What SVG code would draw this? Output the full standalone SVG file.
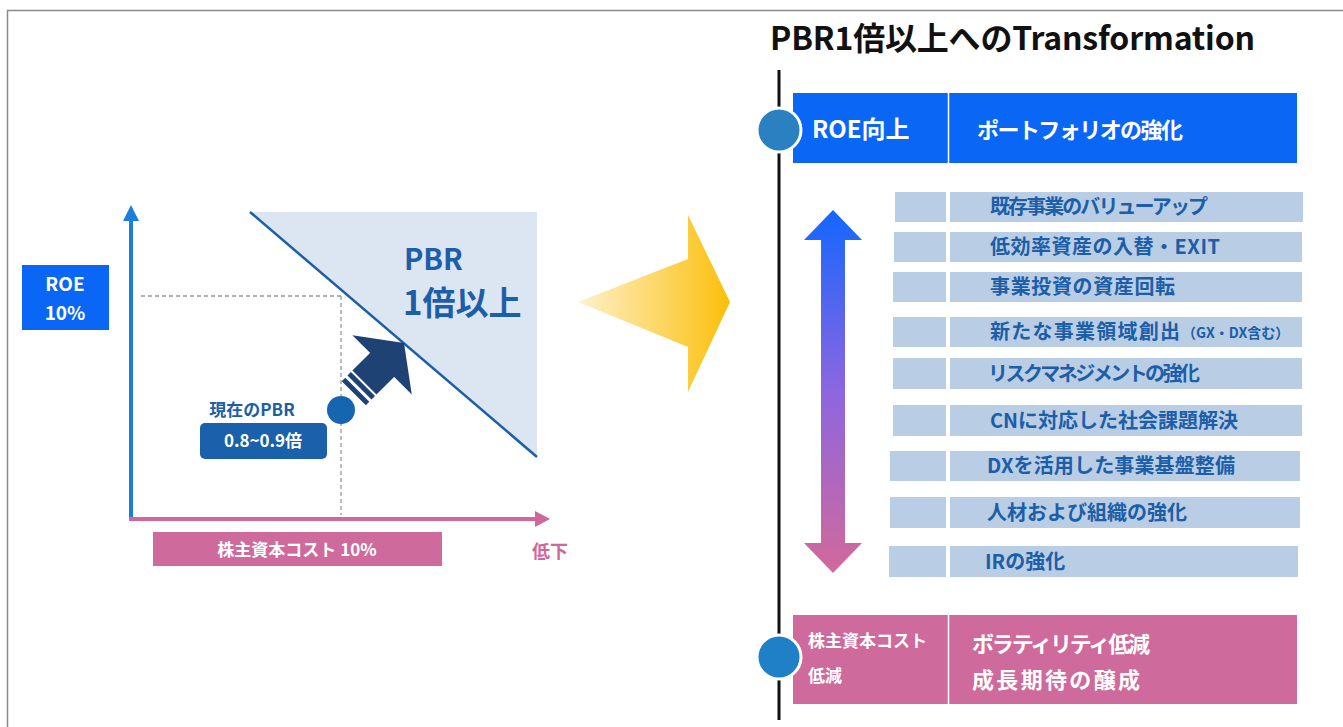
<svg xmlns="http://www.w3.org/2000/svg" width="1343" height="727" viewBox="0 0 1343 727">
<defs>
<linearGradient id="yel" x1="0" y1="0" x2="1" y2="0">
<stop offset="0" stop-color="#fff1cc"/>
<stop offset="1" stop-color="#fbbf0a"/>
</linearGradient>
<linearGradient id="vgrad" x1="0" y1="0" x2="0" y2="1">
<stop offset="0" stop-color="#1466ff"/>
<stop offset="0.5" stop-color="#8d66e0"/>
<stop offset="1" stop-color="#d2699a"/>
</linearGradient>
<style>
text{font-family:"Noto Sans CJK JP","Noto Sans",sans-serif;font-weight:bold;}
.w{fill:#ffffff;}
.b{fill:#1c5ea8;}
.row{fill:#b9cde5;}
.item{font-size:20px;fill:#1c5ea8;}
</style>
</defs>
<rect x="0" y="0" width="1343" height="727" fill="#ffffff"/>
<path d="M7.5,727 V10.5 H1343" fill="none" stroke="#8a8a8a" stroke-width="1.5"/>

<g id="connectors">
<line x1="131" y1="521" x2="131" y2="218" stroke="#1a7fd9" stroke-width="4"/>
<polygon points="131,205 123,221 139,221" fill="#1a7fd9"/>
<line x1="129" y1="519" x2="537" y2="519" stroke="#d0679b" stroke-width="4"/>
<polygon points="550,519 535,511 535,527" fill="#d0679b"/>
<line x1="141" y1="296" x2="341" y2="296" stroke="#999999" stroke-width="1.3" stroke-dasharray="4,3"/>
<line x1="341" y1="296" x2="341" y2="515" stroke="#999999" stroke-width="1.3" stroke-dasharray="4,3"/>
<polygon points="578,302 688,259 688,215 730,302 688,392 688,347" fill="url(#yel)"/>
<polygon points="833,210 862,240 845,240 845,543 862,543 833,573 804,543 821,543 821,240 804,240" fill="url(#vgrad)"/>
<line x1="779" y1="70" x2="779" y2="720" stroke="#111111" stroke-width="3"/>
</g>

<g id="pbr-zone">
<polygon points="250,212 537,212 537,456" fill="#dce6f2"/>
<line x1="250" y1="212" x2="537" y2="457" stroke="#1c5ea8" stroke-width="2.5"/>
<text x="404" y="270" font-size="29" class="b">PBR</text>
<text x="403" y="315" font-size="33" class="b">1倍以上</text>
</g>

<g id="roe-label">
<rect x="22" y="265" width="87" height="65" fill="#0a66f5"/>
<text x="65" y="291" font-size="19" class="w" text-anchor="middle">ROE</text>
<text x="65" y="320" font-size="19" class="w" text-anchor="middle">10%</text>
</g>

<g id="current-pbr">
<g transform="translate(404,343) rotate(-45)" fill="#1f4275">
<polygon points="0,0 -31,-42 -31,42"/>
<rect x="-56" y="-17" width="26" height="34"/>
<rect x="-63" y="-17" width="5" height="34"/>
<rect x="-71" y="-17" width="5" height="34"/>
</g>
<circle cx="341" cy="410" r="14" fill="#1565b0"/>
<text x="252" y="416" font-size="17" class="b" text-anchor="middle">現在のPBR</text>
<rect x="200" y="423" width="127" height="36" rx="5" fill="#1a60aa"/>
<text x="263" y="447" font-size="17" class="w" text-anchor="middle">0.8~0.9倍</text>
</g>

<g id="cost-label">
<rect x="153" y="532" width="289" height="34" fill="#cf6a9c"/>
<text x="297" y="556" font-size="17" class="w" text-anchor="middle">株主資本コスト 10%</text>
<text x="532" y="558" font-size="18" fill="#d0679b">低下</text>
</g>

<g id="title">
<text x="770" y="50" font-size="32" fill="#111111" textLength="485">PBR1倍以上へのTransformation</text>
</g>

<g id="roe-up">
<rect x="793" y="93" width="504" height="70" fill="#0a66f5"/>
<line x1="948.5" y1="93" x2="948.5" y2="163" stroke="#ffffff" stroke-width="1.5"/>
<circle cx="779" cy="130" r="22" fill="#2b80c2" stroke="#ffffff" stroke-width="3"/>
<text x="812" y="138" font-size="24" class="w">ROE向上</text>
<text x="977" y="138" font-size="22" class="w" textLength="206">ポートフォリオの強化</text>
</g>

<g id="items">
<rect class="row" x="895" y="192" width="51" height="30"/><rect class="row" x="950" y="192" width="353" height="30"/>
<text class="item" x="990" y="214" textLength="218">既存事業のバリューアップ</text>
<rect class="row" x="894" y="232" width="52" height="30"/><rect class="row" x="950" y="232" width="352" height="30"/>
<text class="item" x="990" y="254" textLength="230">低効率資産の入替・EXIT</text>
<rect class="row" x="893" y="272" width="53" height="30"/><rect class="row" x="950" y="272" width="352" height="30"/>
<text class="item" x="990" y="294" textLength="185">事業投資の資産回転</text>
<rect class="row" x="893" y="317" width="53" height="30"/><rect class="row" x="950" y="317" width="352" height="30"/>
<text class="item" x="990" y="339" textLength="190">新たな事業領域創出</text>
<text x="1182" y="338" font-size="14" class="b">（GX・DX含む）</text>
<rect class="row" x="893" y="358" width="53" height="31"/><rect class="row" x="950" y="358" width="352" height="31"/>
<text class="item" x="988" y="381" textLength="212">リスクマネジメントの強化</text>
<rect class="row" x="893" y="405" width="53" height="31"/><rect class="row" x="950" y="405" width="352" height="31"/>
<text class="item" x="990" y="428" textLength="248">CNに対応した社会課題解決</text>
<rect class="row" x="890" y="451" width="56" height="30"/><rect class="row" x="950" y="451" width="350" height="30"/>
<text class="item" x="987" y="473" textLength="248">DXを活用した事業基盤整備</text>
<rect class="row" x="890" y="497" width="56" height="31"/><rect class="row" x="950" y="497" width="350" height="31"/>
<text class="item" x="987" y="520" textLength="200">人材および組織の強化</text>
<rect class="row" x="889" y="546" width="57" height="31"/><rect class="row" x="950" y="546" width="348" height="31"/>
<text class="item" x="985" y="569" font-size="21">IRの強化</text>
</g>

<g id="cost-down">
<rect x="793" y="615" width="504" height="89" fill="#cf6a9c"/>
<line x1="948.5" y1="615" x2="948.5" y2="704" stroke="#ffffff" stroke-width="1.5"/>
<circle cx="779" cy="657" r="22" fill="#1f80c8" stroke="#ffffff" stroke-width="3"/>
<text x="808" y="647" font-size="17" class="w">株主資本コスト</text>
<text x="808" y="682" font-size="17" class="w">低減</text>
<text x="972" y="652" font-size="22" class="w" textLength="178">ボラティリティ低減</text>
<text x="972" y="688" font-size="22" class="w" textLength="168">成長期待の醸成</text>
</g>
</svg>
